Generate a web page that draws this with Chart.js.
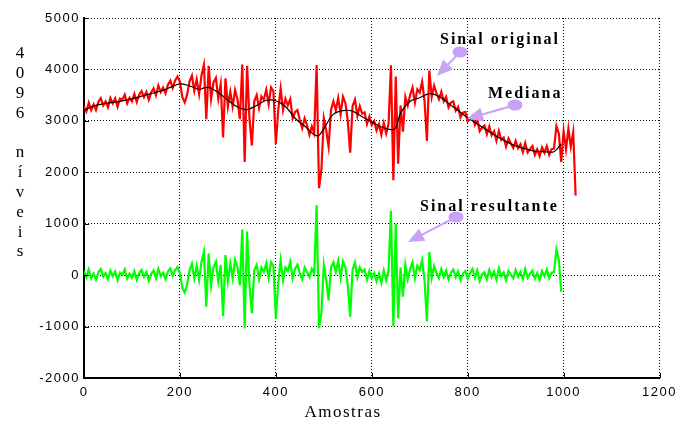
<!DOCTYPE html>
<html>
<head>
<meta charset="utf-8">
<script src="https://cdn.jsdelivr.net/npm/chart.js@4"></script>
<style>
html,body{margin:0;padding:0;background:#fff;}
#wrap{width:681px;height:424px;position:relative;}
</style>
</head>
<body>
<div id="wrap"><canvas id="c" width="681" height="424"></canvas></div>
<script>
// ---- data (sample index step for red / green series) ----
const sampleStep = 5;
const xTicks = [0, 200, 400, 600, 800, 1000, 1200];
const yTicks = [-2000, -1000, 0, 1000, 2000, 3000, 4000, 5000];

// Sinal original (red), samples 0..1020 every 5
const sinalOriginal = [
  3280, 3182, 3355, 3208, 3320, 3210, 3370, 3440, 3300, 3378,
  3265, 3442, 3340, 3438, 3275, 3432, 3410, 3510, 3340, 3450,
  3380, 3522, 3365, 3508, 3580, 3462, 3565, 3408, 3550, 3632,
  3495, 3688, 3560, 3648, 3535, 3702, 3780, 3640, 3785, 3862,
  3760, 3460, 3360, 3510, 3770, 3882, 3585, 3808, 3520, 3885,
  4090, 3030, 4070, 3425, 3750, 3835, 3430, 3712, 2675, 3828,
  3280, 3565, 3275, 3600, 3420, 3032, 4095, 2200, 4070, 3040,
  2520, 3380, 3500, 3245, 3475, 3410, 3605, 3325, 3650, 3575,
  2550, 3212, 3625, 3208, 3430, 3302, 3425, 3048, 3170, 3212,
  3015, 2858, 3050, 2918, 2730, 2892, 2760, 4085, 1690, 2045,
  3050, 2820, 2500, 3210, 3380, 3208, 3445, 3132, 3470, 3348,
  2995, 2382, 3290, 3412, 3095, 3285, 3140, 3165, 2940, 3085,
  2920, 2995, 2810, 2935, 2730, 2958, 2755, 2942, 4080, 1845,
  3860, 2165, 3300, 2788, 3465, 3302, 3500, 3648, 3355, 3612,
  3550, 3760, 3390, 2610, 3980, 3468, 3685, 3532, 3420, 3565,
  3380, 3465, 3260, 3355, 3380, 3195, 3270, 3065, 3160, 3175,
  2990, 3040, 3090, 2920, 3030, 2800, 2870, 2910, 2740, 2890,
  2720, 2800, 2610, 2805, 2630, 2675, 2500, 2658, 2565, 2472,
  2610, 2468, 2545, 2392, 2568, 2385, 2452, 2512, 2340, 2448,
  2315, 2482, 2380, 2510, 2340, 2450, 2460, 2900, 2750, 2200,
  2800, 2450, 2850, 2500, 2780, 1550
];

// Sinal resultante (green), samples 0..995 every 5
const sinalResultante = [
  80, -40, 110, -60, 30, -90, 60, 120, -30, 40,
  -80, 90, -20, 70, -100, 50, 10, 110, -70, 30,
  -50, 80, -90, 40, 100, -30, 60, -110, 20, 90,
  -60, 120, -20, 50, -80, 70, 130, -10, 100, 160,
  40, -250, -340, -180, 90, 220, -60, 180, -90, 260,
  450, -615, 420, -200, 150, 260, -120, 200, -800, 390,
  -120, 230, -60, 300, 150, -200, 890, -1030, 850, -200,
  -740, 100, 200, -80, 150, 60, 230, -50, 250, 180,
  -840, -150, 290, -100, 150, 80, 260, -60, 120, 200,
  40, -80, 150, 60, -40, 120, 30, 1360, -1030, -740,
  200, -100, -490, 150, 250, 60, 280, -50, 270, 150,
  -200, -810, 100, 250, -40, 150, 60, 110, -90, 80,
  -60, 40, -120, 30, -150, 90, -100, 100, 1250, -1000,
  1000, -840, 150, -420, 200, -80, 120, 250, -60, 180,
  100, 290, -100, -900, 450, -50, 180, 40, -60, 120,
  -30, 90, -80, 50, 110, -40, 70, -100, 30, 80,
  -70, 40, 120, -50, 90, -110, 20, 60, -80, 100,
  -40, 70, -90, 130, -20, 50, -100, 80, 10, -60,
  100, -30, 60, -80, 120, -50, 30, 90, -70, 40,
  -90, 80, -20, 110, -60, 50, 60, 500, 300, -320
];

// Mediana (black)
const medianaX = [0, 20, 40, 60, 80, 100, 120, 140, 160, 180, 200, 220, 240, 250, 260, 280, 300, 320, 340, 360, 380, 400, 420, 440, 460, 480, 490, 500, 520, 540, 560, 580, 600, 620, 640, 650, 660, 680, 700, 720, 740, 760, 780, 800, 820, 840, 860, 880, 900, 920, 940, 960, 980, 995];
const medianaY = [3200, 3290, 3330, 3360, 3390, 3430, 3480, 3530, 3580, 3650, 3720, 3680, 3610, 3640, 3650, 3550, 3400, 3270, 3220, 3300, 3400, 3390, 3280, 3050, 2900, 2730, 2720, 2850, 3130, 3200, 3190, 3080, 2980, 2880, 2830, 2860, 3150, 3380, 3450, 3530, 3480, 3340, 3200, 3060, 2940, 2820, 2700, 2600, 2510, 2460, 2410, 2400, 2400, 2550];

// annotation labels
const labels = ["Sinal original", "Mediana", "Sinal resultante"];
const yTitle = "4096 níveis";
const xTitle = "Amostras";

const toXY = (vals, xs) => vals.map((v, i) => ({x: xs ? xs[i] : i * sampleStep, y: v}));

const annotations = {
  id: 'annot',
  beforeDraw(chart) {
    chart.ctx.letterSpacing = '1.5px';
  },
  afterDraw(chart) {
    const ctx = chart.ctx;
    const {left, bottom} = chart.chartArea;
    ctx.save();
    ctx.letterSpacing = '0px';
    // small inward tick marks
    ctx.strokeStyle = '#000'; ctx.lineWidth = 1;
    ctx.beginPath();
    yTicks.forEach(v => { const y = Math.round(chart.scales.y.getPixelForValue(v)) + 0.5; ctx.moveTo(left, y); ctx.lineTo(left + 5, y); });
    xTicks.forEach(v => { const x = Math.round(chart.scales.x.getPixelForValue(v)) + 0.5; ctx.moveTo(x, bottom); ctx.lineTo(x, bottom - 5); });
    ctx.stroke();
    // y title stacked
    ctx.fillStyle = '#000';
    ctx.font = '17px "Liberation Serif", "Times New Roman", serif';
    ctx.textAlign = 'center';
    ctx.textBaseline = 'middle';
    const chars = Array.from(yTitle);
    chars.forEach((ch, i) => { if (ch !== ' ') ctx.fillText(ch, 20, 54 + i * 19.8); });
    // x title
    ctx.letterSpacing = '1.5px';
    ctx.font = '17px "Liberation Serif", "Times New Roman", serif';
    ctx.textAlign = 'center';
    ctx.textBaseline = 'alphabetic';
    ctx.fillText(xTitle, 343, 417);

    const purple = '#c8a2f7';
    function arrow(cx, cy, tx, ty) {
      ctx.fillStyle = purple; ctx.strokeStyle = purple;
      const dx = tx - cx, dy = ty - cy; const L = Math.hypot(dx, dy);
      const ux = dx / L, uy = dy / L;
      const hl = 16, hw = 7;
      const bx = tx - ux * hl, by = ty - uy * hl;
      ctx.lineWidth = 2;
      ctx.beginPath(); ctx.moveTo(cx, cy); ctx.lineTo(bx, by); ctx.stroke();
      ctx.beginPath(); ctx.moveTo(tx, ty);
      ctx.lineTo(bx - uy * hw, by + ux * hw);
      ctx.lineTo(bx + uy * hw, by - ux * hw);
      ctx.closePath(); ctx.fill();
      ctx.beginPath(); ctx.ellipse(cx, cy, 7.5, 5.5, 0, 0, Math.PI * 2); ctx.fill();
    }
    arrow(460, 52, 437, 76);
    arrow(515, 105, 467, 119);
    arrow(456, 217, 408, 242);

    ctx.fillStyle = '#000';
    ctx.font = 'bold 16px "Liberation Serif", "Times New Roman", serif';
    ctx.textAlign = 'left';
    ctx.letterSpacing = '2px';
    ctx.fillText(labels[0], 440, 44);
    ctx.fillText(labels[1], 488, 98);
    ctx.fillText(labels[2], 420, 211);
    ctx.restore();
  }
};

const tickFont = { family: '"Liberation Sans", Arial, sans-serif', size: 13 };

new Chart(document.getElementById('c'), {
  type: 'line',
  data: {
    datasets: [
      { label: labels[0], data: toXY(sinalOriginal), borderColor: '#ff0000', borderWidth: 2.2, pointRadius: 0, tension: 0, order: 3 },
      { label: labels[2], data: toXY(sinalResultante), borderColor: '#00ff00', borderWidth: 2.2, pointRadius: 0, tension: 0, order: 2 },
      { label: labels[1], data: toXY(medianaY, medianaX), borderColor: '#000000', borderWidth: 1.2, pointRadius: 0, tension: 0.35, order: 1 }
    ]
  },
  options: {
    responsive: false,
    animation: false,
    events: [],
    layout: { padding: { left: 0, top: 18, right: 19, bottom: 0 } },
    plugins: { legend: { display: false }, tooltip: { enabled: false } },
    scales: {
      x: {
        type: 'linear', min: 0, max: 1200,
        afterBuildTicks: s => { s.ticks = xTicks.map(v => ({value: v})); },
        afterFit: s => { s.height = 46; },
        grid: { color: '#000', lineWidth: 1, drawTicks: false },
        border: { display: true, color: '#000', width: 2, dash: [1, 2] },
        ticks: { color: '#000', padding: 7, maxRotation: 0, font: tickFont, callback: v => String(v) }
      },
      y: {
        type: 'linear', min: -2000, max: 5000,
        afterBuildTicks: s => { s.ticks = yTicks.map(v => ({value: v})); },
        afterFit: s => { s.width = 84; },
        grid: { color: '#000', lineWidth: 1, drawTicks: false },
        border: { display: true, color: '#000', width: 2, dash: [1, 2] },
        ticks: { color: '#000', padding: 4, font: tickFont, callback: v => String(v) }
      }
    }
  },
  plugins: [annotations]
});
</script>
</body>
</html>
